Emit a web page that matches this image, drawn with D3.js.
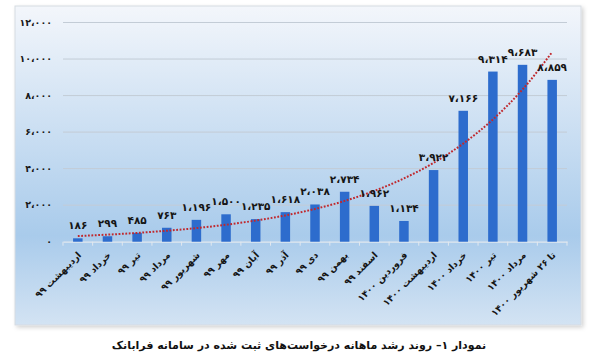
<!DOCTYPE html>
<html><head><meta charset="utf-8">
<script src="https://cdn.jsdelivr.net/npm/d3@7"></script>
<style>
html,body{margin:0;padding:0;background:#fff;}
svg{display:block;font-family:"DejaVu Sans",sans-serif;}
</style></head>
<body>
<svg id="chart" width="600" height="358"></svg>
<script>
const categories = ["اردیبهشت ۹۹","خرداد ۹۹","تیر ۹۹","مرداد ۹۹","شهریور ۹۹","مهر ۹۹","آبان ۹۹","آذر ۹۹","دی ۹۹","بهمن ۹۹","اسفند ۹۹","فروردین ۱۴۰۰","اردیبهشت ۱۴۰۰","خرداد ۱۴۰۰","تیر ۱۴۰۰","مرداد ۱۴۰۰","تا ۲۶ شهریور ۱۴۰۰"];
const values = [186,299,485,763,1196,1500,1235,1618,2038,2734,1962,1134,3922,7166,9314,9683,8859];
const yTicks = [0,2000,4000,6000,8000,10000,12000];
const title = "نمودار ۱– روند رشد ماهانه درخواست‌های ثبت شده در سامانه فرابانک";

const fa = s => String(s).replace(/\d/g, d => "۰۱۲۳۴۵۶۷۸۹"[d]);
const fmt = v => fa(d3.format(",")(v)).replace(/,/g, "،");

const svg = d3.select("#chart");
const defs = svg.append("defs");
const grad = defs.append("linearGradient").attr("id","bg").attr("x1",0).attr("y1",0).attr("x2",0).attr("y2",1);
grad.append("stop").attr("offset","0%").attr("stop-color","#f3f6fb");
grad.append("stop").attr("offset","72%").attr("stop-color","#a9cbeb");
grad.append("stop").attr("offset","100%").attr("stop-color","#d3e3f3");
const sh = defs.append("filter").attr("id","shadow").attr("x","-5%").attr("y","-5%").attr("width","110%").attr("height","115%");
sh.append("feDropShadow").attr("dx",2).attr("dy",2).attr("stdDeviation",2).attr("flood-color","#000").attr("flood-opacity",0.18);

svg.append("rect").attr("x",15).attr("y",6).attr("width",566).attr("height",319)
  .attr("fill","url(#bg)").attr("stroke","#d6dbe2").attr("stroke-width",1).attr("filter","url(#shadow)");

const pLeft = 63, pRight = 567, pTop = 22.5, pBottom = 241.7;
const x = d3.scaleBand().domain(categories).range([pLeft, pRight]).paddingInner(0.68).paddingOuter(0.34);
const y = d3.scaleLinear().domain([0, 12000]).range([pBottom, pTop]);

// gridlines
svg.append("g").selectAll("line").data(yTicks.slice(1)).join("line")
  .attr("x1", pLeft).attr("x2", pRight).attr("y1", d => y(d)).attr("y2", d => y(d))
  .attr("stroke", "#c3ccd6").attr("stroke-width", 1);

// y tick labels
svg.append("g").selectAll("text").data(yTicks).join("text")
  .attr("x", 52).attr("y", d => y(d)).attr("dy","0.35em")
  .attr("text-anchor","end").attr("font-size","9.5px").attr("font-weight","bold").attr("fill","#1a1a1a")
  .text(d => fmt(d));

// x axis
const xAxis = d3.axisBottom(x).tickSize(0).tickFormat("");
const gx = svg.append("g").attr("transform", `translate(0,${pBottom})`).call(xAxis);
gx.select(".domain").attr("stroke","#e2e8ef").attr("stroke-width",1.2);
const step = x.step();
const boundaries = d3.range(categories.length + 1).map(i => pLeft + i * step);
svg.append("g").selectAll("line").data(boundaries).join("line")
  .attr("x1", d => d).attr("x2", d => d).attr("y1", pBottom).attr("y2", pBottom + 4)
  .attr("stroke", "#e2e8ef").attr("stroke-width", 1);

// bars
svg.append("g").selectAll("rect").data(values).join("rect")
  .attr("x", (d,i) => x(categories[i])).attr("width", x.bandwidth())
  .attr("y", d => y(d)).attr("height", d => pBottom - y(d))
  .attr("fill", "#2d6ccd");

// exponential trendline (least squares on ln(y), as in the source chart)
const n = values.length;
const xs = d3.range(1, n + 1);
const ly = values.map(v => Math.log(v));
const mx = d3.mean(xs), my = d3.mean(ly);
const b = d3.sum(xs.map((xi,i) => (xi - mx) * (ly[i] - my))) / d3.sum(xs.map(xi => (xi - mx) ** 2));
const a = my - b * mx;
const trend = xs.map(xi => ({ cat: categories[xi - 1], v: Math.exp(a + b * xi) }));
const line = d3.line().x(d => x(d.cat) + x.bandwidth() / 2).y(d => y(d.v)).curve(d3.curveMonotoneX);
svg.append("path").datum(trend).attr("d", line).attr("fill","none")
  .attr("stroke","#c0282d").attr("stroke-width",2).attr("stroke-dasharray","1.8,1.6");

// value labels
svg.append("g").selectAll("text").data(values).join("text")
  .attr("x", (d,i) => x(categories[i]) + x.bandwidth() / 2).attr("y", d => y(d) - 9)
  .attr("text-anchor","middle").attr("font-size","10.5px").attr("font-weight","bold").attr("fill","#151515")
  .text(d => fmt(d));

// category labels
svg.append("g").selectAll("text").data(categories).join("text")
  .attr("transform", d => `translate(${x(d) + x.bandwidth() / 2 + 4},${pBottom + 14}) rotate(-45)`)
  .attr("text-anchor","end").attr("font-size","9.3px").attr("font-weight","bold").attr("fill","#151515")
  .text(d => d);

// title
svg.append("text").attr("x", 299).attr("y", 349).attr("text-anchor","middle")
  .attr("font-size","11px").attr("font-weight","bold").attr("fill","#111")
  .text(title);
</script>
</body></html>
